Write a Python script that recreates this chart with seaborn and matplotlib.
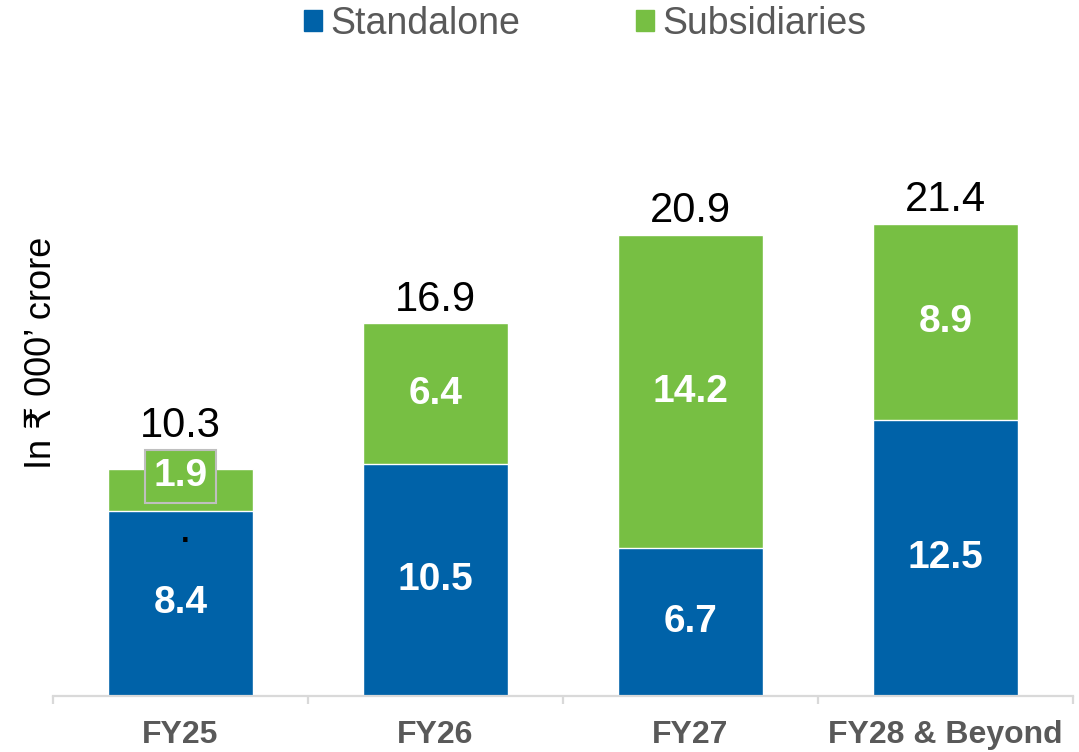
import matplotlib
matplotlib.use("Agg")
import matplotlib.pyplot as plt
import seaborn as sns
import pandas as pd
from matplotlib.patches import Patch

# data (in Rs 000' crore)
categories = ["FY25", "FY26", "FY27", "FY28 & Beyond"]
standalone = [8.4, 10.5, 6.7, 12.5]
subsidiaries = [1.9, 6.4, 14.2, 8.9]
totals = [10.3, 16.9, 20.9, 21.4]

blue = "#0062A8"
green = "#77BF43"
grey_text = "#595959"

sns.set_theme(style="white")
plt.rcParams["font.family"] = ["Liberation Sans", "DejaVu Sans"]

df = pd.DataFrame({"cat": categories, "Standalone": standalone,
                   "Subsidiaries": subsidiaries, "Total": totals})

fig = plt.figure(figsize=(10.79, 7.52), dpi=100)
ax = fig.add_axes([0.0491, 0.0745, 0.9453, 0.792])

# stacked bars: full height in green, standalone in blue over it
sns.barplot(data=df, x="cat", y="Total", color=green, width=0.57,
            saturation=1, ax=ax)
sns.barplot(data=df, x="cat", y="Standalone", color=blue, width=0.57,
            saturation=1, ax=ax)

ax.set_ylim(0, 27)
ax.set_xlim(-0.5, len(categories) - 0.5)

for i, (s, sub, t) in enumerate(zip(standalone, subsidiaries, totals)):
    ax.text(i, s / 2, f"{s}", ha="center", va="center", color="white",
            fontsize=28, fontweight="bold")
    if i == 0:
        ax.text(i, s + sub / 2 + 0.6, f"{sub}", ha="center", va="center",
                color="white", fontsize=28, fontweight="bold",
                bbox=dict(boxstyle="square,pad=0.22", fc=green, ec="#BFBFBF", lw=1.5))
        ax.annotate(f"{t}", (i, t), xytext=(0, 23), textcoords="offset points",
                    ha="center", va="baseline", fontsize=30, color="black")
        # stray dot seen in the original
        ax.text(i + 0.02, 7.0, ".", ha="center", va="baseline", fontsize=22,
                fontweight="bold", color="black")
    else:
        ax.text(i, s + sub / 2, f"{sub}", ha="center", va="center",
                color="white", fontsize=28, fontweight="bold")
        ax.annotate(f"{t}", (i, t), xytext=(0, 9), textcoords="offset points",
                    ha="center", va="baseline", fontsize=30, color="black")

# axes styling
for side in ["top", "right", "left"]:
    ax.spines[side].set_visible(False)
ax.spines["bottom"].set_color("#D9D9D9")
ax.spines["bottom"].set_linewidth(1.6)
ax.set_yticks([])
ax.set_xlabel("")
ax.set_ylabel("")
fig.text(42 / 1079, 1 - 353 / 752, "In ₹ 000’ crore", rotation=90,
         ha="center", va="center", fontsize=26, color="black")

# ticks between categories
ax.set_xticks([-0.5, 0.5, 1.5, 2.5, 3.5])
ax.set_xticklabels([])
ax.tick_params(axis="x", length=6, width=1.6, color="#D9D9D9", bottom=True)
for i, c in enumerate(categories):
    ax.annotate(c, (i, 0), xytext=(0, -28), textcoords="offset points",
                ha="center", va="center", fontsize=23, fontweight="bold",
                color=grey_text, annotation_clip=False)

handles = [Patch(color=blue, label="Standalone"), Patch(color=green, label="Subsidiaries")]
fig.legend(handles=handles, loc="center", bbox_to_anchor=(0.5422, 0.968), ncol=2,
           frameon=False, fontsize=27, labelcolor=grey_text, handlelength=0.48,
           handleheight=0.48, handletextpad=0.22, columnspacing=3.1)

fig.savefig("out.png", dpi=100)
